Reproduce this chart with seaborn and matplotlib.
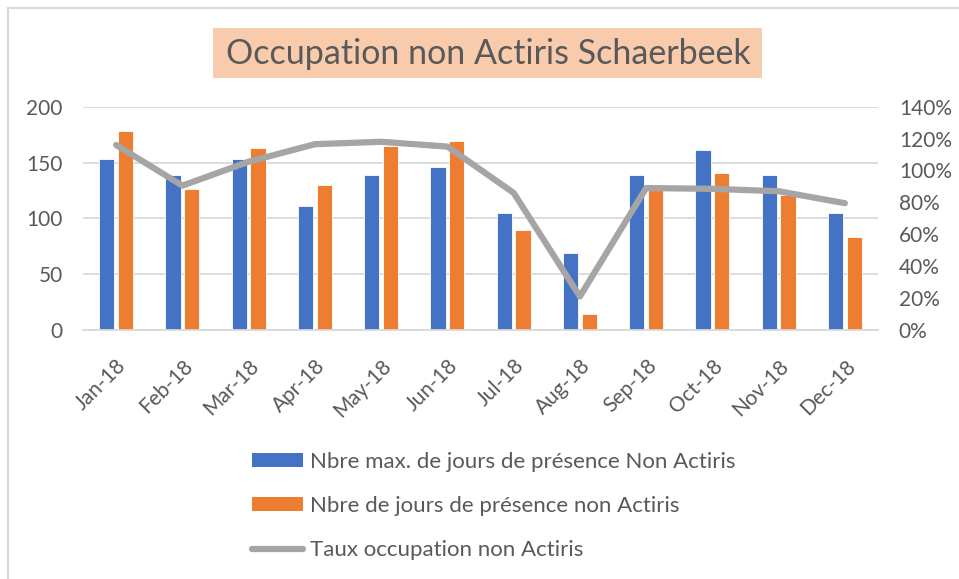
import numpy as np
import pandas as pd
import matplotlib
matplotlib.use("Agg")
import matplotlib.pyplot as plt
import seaborn as sns
from matplotlib.patches import Patch
from matplotlib.lines import Line2D

months = ["Jan-18", "Feb-18", "Mar-18", "Apr-18", "May-18", "Jun-18",
          "Jul-18", "Aug-18", "Sep-18", "Oct-18", "Nov-18", "Dec-18"]
max_days = [153, 139, 153, 111, 139, 146, 105, 69, 139, 161, 139, 105]
days = [178, 126, 163, 130, 165, 169, 90, 14, 125, 141, 121, 83]
rate = [116, 90.5, 105.5, 116.5, 118, 115, 86, 21, 89, 88.5, 87, 79.5]
left_ticks = [0, 50, 100, 150, 200]
right_ticks = [0, 20, 40, 60, 80, 100, 120, 140]

s1 = "Nbre max. de jours de présence Non Actiris"
s2 = "Nbre de jours de présence non Actiris"
s3 = "Taux occupation non Actiris"
title = "Occupation non Actiris Schaerbeek"

blue = "#4472C4"
orange = "#ED7D31"
gray = "#A5A5A5"
txt = "#595959"
grid = "#D9D9D9"

df = pd.DataFrame({
    "month": months * 2,
    "value": max_days + days,
    "serie": [s1] * len(months) + [s2] * len(months),
})

sns.set_theme(style="white")
plt.rcParams["font.family"] = ["Lato", "DejaVu Sans"]

fig = plt.figure(figsize=(9.59, 5.79), dpi=100)
ax = fig.add_axes([83 / 959, 1 - 330 / 579, 795 / 959, (330 - 106.7) / 579])

sns.barplot(data=df, x="month", y="value", hue="serie", order=months,
            palette=[blue, orange], width=0.56, gap=0.18, ax=ax,
            legend=False, saturation=1, edgecolor="white", linewidth=0.6)

ax.set_ylim(0, 200)
ax.set_xlim(-0.5, len(months) - 0.5)
ax.set_yticks(left_ticks)
ax.set_yticklabels([str(t) for t in left_ticks])
ax.yaxis.grid(True, color=grid, linewidth=1.3)
ax.set_axisbelow(True)
ax.set_xlabel("")
ax.set_ylabel("")
for sp in ["top", "left", "right"]:
    ax.spines[sp].set_visible(False)
ax.spines["bottom"].set_color(grid)
ax.spines["bottom"].set_linewidth(1.3)
ax.tick_params(axis="y", length=0, pad=14.5, labelsize=15, labelcolor=txt)
ax.set_xticks(np.arange(len(months)))
ax.set_xticklabels(months, rotation=45, ha="right", rotation_mode="anchor")
ax.tick_params(axis="x", length=0, pad=18.5, labelsize=15, labelcolor=txt)
# boundary tick marks
ax.set_xticks(np.arange(len(months) + 1) - 0.5, minor=True)
ax.tick_params(axis="x", which="minor", length=6, width=1.3, color=grid, direction="out")

ax2 = ax.twinx()
sns.lineplot(x=np.arange(len(months)), y=rate, ax=ax2, color=gray, linewidth=4.5,
             solid_capstyle="round", solid_joinstyle="round")
ax2.set_ylim(0, 140)
ax2.set_yticks(right_ticks)
ax2.set_yticklabels([f"{t}%" for t in right_ticks])
ax2.tick_params(axis="y", length=0, pad=15, labelsize=15, labelcolor=txt)
for sp in ["top", "left", "right", "bottom"]:
    ax2.spines[sp].set_visible(False)
ax2.grid(False)

# title box
fig.patches.append(plt.Rectangle((213 / 959, 1 - 78 / 579), 549 / 959, 50 / 579,
                                 transform=fig.transFigure, facecolor="#F8CBAD",
                                 edgecolor="none", zorder=0))
fig.text(488 / 959, 1 - 54 / 579, title, ha="center", va="center", fontsize=24.5,
         color=txt)

handles = [Patch(facecolor=blue, edgecolor="none"),
           Patch(facecolor=orange, edgecolor="none"),
           Line2D([0], [0], color=gray, linewidth=4.5, solid_capstyle="round")]
leg = fig.legend(handles, [s1, s2, s3], loc="upper left",
                 bbox_to_anchor=(252 / 959, 1 - 452 / 579), frameon=False,
                 fontsize=16, labelspacing=1.08, handlelength=2.3, handleheight=0.55,
                 handletextpad=0.3, borderaxespad=0, borderpad=0)
for t in leg.get_texts():
    t.set_color(txt)

# chart border (top and left visible)
fig.add_artist(Line2D([8 / 959, 1], [1 - 8 / 579, 1 - 8 / 579], color=grid, linewidth=1.5))
fig.add_artist(Line2D([8 / 959, 8 / 959], [0, 1 - 8 / 579], color=grid, linewidth=1.5))

fig.savefig("out.png", dpi=100, facecolor="white")
